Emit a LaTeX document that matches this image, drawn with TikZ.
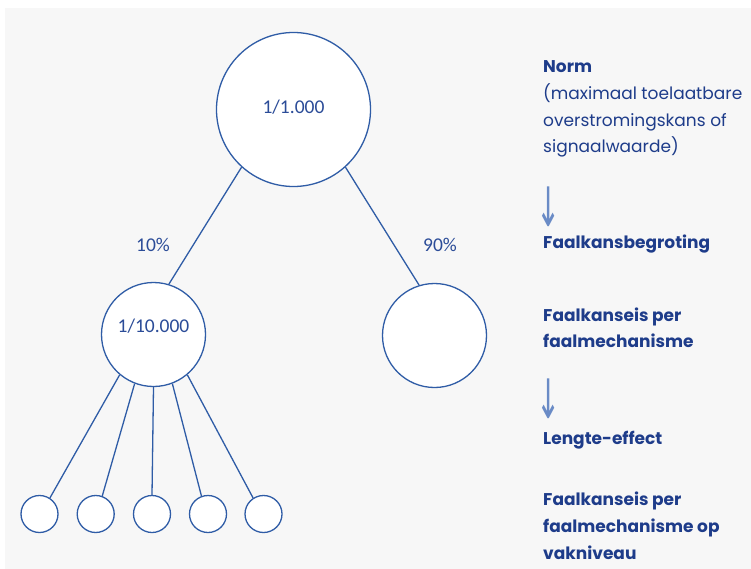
\documentclass[tikz,border=0pt]{standalone}
\usepackage{fontspec}
\usepackage{graphicx}
\setmainfont{Poppins}
\newfontfamily\numfont{Carlito}
\newfontfamily\arrowfont{DejaVu Sans}
\definecolor{bg}{HTML}{F7F7F7}
\definecolor{stroke}{HTML}{2F5CA6}
\definecolor{txt}{HTML}{1E3C8A}
\definecolor{numc}{HTML}{2B4C98}
\definecolor{arr}{HTML}{6A8BC6}
\begin{document}
\begin{tikzpicture}[x=1pt,y=-1pt,
  circ/.style={circle,draw=stroke,fill=white,line width=1.3pt,inner sep=0pt},
  conn/.style={draw=stroke,line width=1.3pt},
  numtext/.style={font=\numfont\fontsize{19.5}{19.5}\selectfont,text=numc,inner sep=0pt},
  side/.style={anchor=base west,inner sep=0pt,text=txt,
    font=\fontsize{17}{20}\selectfont\bfseries},
  sidereg/.style={side,font=\fontsize{17}{20}\selectfont},
  sidearrow/.style={anchor=center,inner sep=0pt,text=arr,font=\arrowfont\fontsize{34}{34}\selectfont}]
\useasboundingbox (0,0) rectangle (751,569);
\fill[bg] (5,8) rectangle (751,569);
% circles
\node[circ,minimum size=154pt] (big) at (293.5,109.5) {};
\node[circ,minimum size=104pt] (mid) at (153.5,334.5) {};
\node[circ,minimum size=104pt] (right) at (434.5,335.5) {};
\node[circ,minimum size=37pt] (s1) at (39.5,514) {};
\node[circ,minimum size=37pt] (s2) at (95.7,514) {};
\node[circ,minimum size=37pt] (s3) at (152,514) {};
\node[circ,minimum size=37pt] (s4) at (208,514) {};
\node[circ,minimum size=37pt] (s5) at (263.5,514) {};
% texts in circles
\node[numtext] (tbig) at (293.5,107) {1/1.000};
\node[numtext] (tmid) at (153.5,326) {1/10.000};
\node[numtext] (p10) at (153,245) {10\%};
\node[numtext] (p90) at (440,245) {90\%};
% connectors
\draw[conn] (big.228) -- (mid.73);
\draw[conn] (big.312) -- (right.107);
\draw[conn] (mid.230) -- (s1.57);
\draw[conn] (mid.249) -- (s2.70);
\draw[conn] (mid.270) -- (s3.90);
\draw[conn] (mid.291) -- (s4.110);
\draw[conn] (mid.310) -- (s5.123);
% side texts
\node[side] (norm) at (543,73) {Norm};
\node[sidereg] (norm2) at (543,100) {(maximaal toelaatbare};
\node[sidereg] (norm3) at (543,126.5) {overstromingskans of};
\node[sidereg] (norm4) at (543,153) {signaalwaarde)};
\node[sidearrow] (a1) at (549,206.5) {\scalebox{0.85}[1.6]{↓}};
\node[side] (begr) at (543,248) {Faalkansbegroting};
\node[side] (eis1a) at (543,321) {Faalkanseis per};
\node[side] (eis1b) at (543,347) {faalmechanisme};
\node[sidearrow] (a2) at (549,398.5) {\scalebox{0.85}[1.6]{↓}};
\node[side] (lengte) at (543,444) {Lengte-effect};
\node[side] (eis2a) at (543,505) {Faalkanseis per};
\node[side] (eis2b) at (543,532) {faalmechanisme op};
\node[side] (eis2c) at (543,559) {vakniveau};
\end{tikzpicture}
\end{document}
